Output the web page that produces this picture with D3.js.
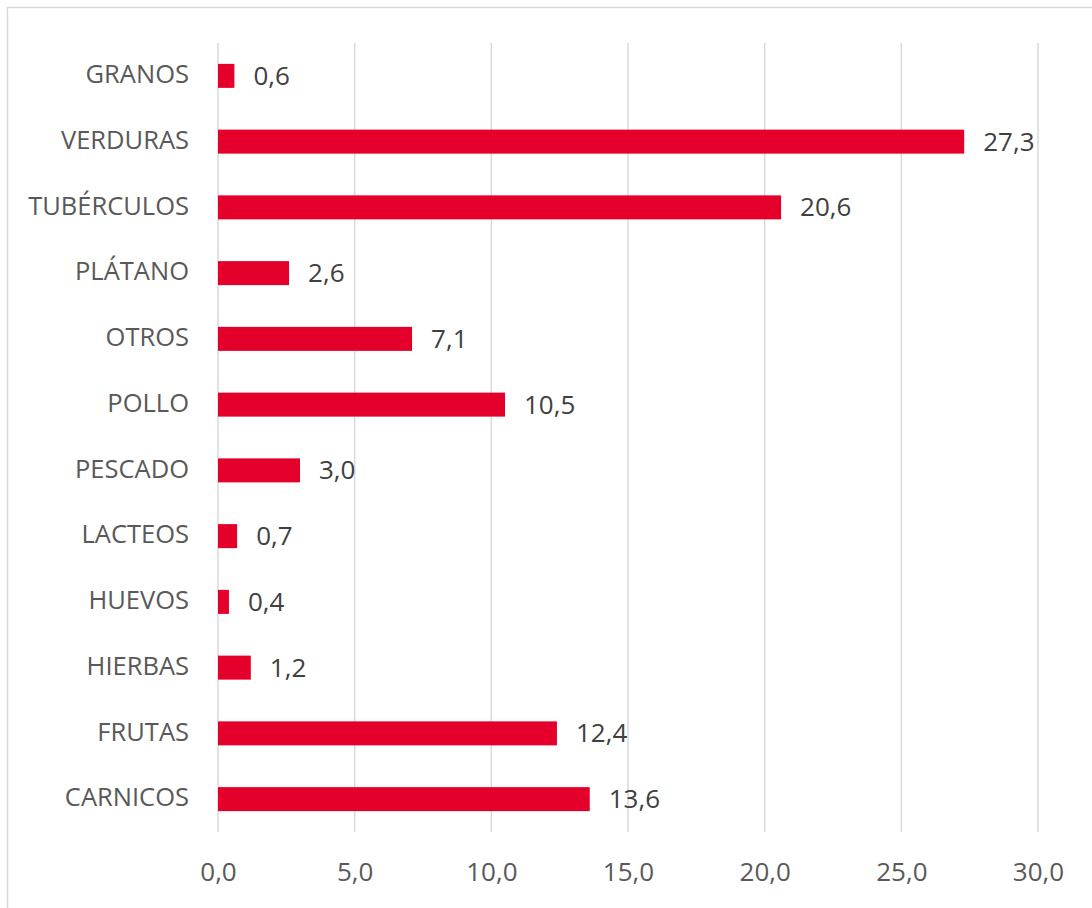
<!DOCTYPE html>
<html><head><meta charset="utf-8">
<script src="https://cdn.jsdelivr.net/npm/d3@7"></script>
<style>body{margin:0;background:#fff}svg{display:block}</style>
</head><body>
<svg id="c" width="1092" height="908"></svg>
<script>
const categories = ["GRANOS","VERDURAS","TUBÉRCULOS","PLÁTANO","OTROS","POLLO","PESCADO","LACTEOS","HUEVOS","HIERBAS","FRUTAS","CARNICOS"];
const values = [0.6,27.3,20.6,2.6,7.1,10.5,3.0,0.7,0.4,1.2,12.4,13.6];
const ticks = [0,5,10,15,20,25,30];

const svg = d3.select("#c");
const font = "'Open Sans', sans-serif";
const fmt = v => v.toFixed(1).replace(".", ",");
const textColor = "#595959";

svg.append("rect").attr("x",7.5).attr("y",7.5).attr("width",1090).attr("height",905)
  .attr("fill","#fff").attr("stroke","#d9d9d9").attr("stroke-width",1.5);

const x = d3.scaleLinear().domain([0,30]).range([218,1038]);
const y = d3.scaleBand().domain(categories).range([43,832]).paddingInner(0.635).paddingOuter(0.3175);

// gridlines
svg.append("g").selectAll("line").data(ticks).join("line")
  .attr("x1",d=>x(d)).attr("x2",d=>x(d)).attr("y1",43).attr("y2",832)
  .attr("stroke","#d9d9d9").attr("stroke-width",1.5);

// x axis labels
const xAxis = d3.axisBottom(x).tickValues(ticks).tickFormat(fmt).tickSize(0).tickPadding(0);
const gx = svg.append("g").attr("transform","translate(0,881)").call(xAxis);
gx.select(".domain").remove();
gx.selectAll("text").attr("font-family",font).attr("font-size",26).attr("fill",textColor).attr("dy",null).attr("y",0);

// y axis labels
const yAxis = d3.axisLeft(y).tickSize(0).tickPadding(0);
const gy = svg.append("g").attr("transform","translate(189,-1)").call(yAxis);
gy.select(".domain").remove();
gy.selectAll("text").attr("font-family",font).attr("font-size",25.5).attr("fill",textColor);

// bars
svg.append("g").selectAll("rect").data(categories).join("rect")
  .attr("x",x(0)).attr("y",d=>y(d)).attr("height",y.bandwidth())
  .attr("width",(d,i)=>x(values[i])-x(0)).attr("fill","#E4002B");

// value labels
svg.append("g").selectAll("text").data(categories).join("text")
  .attr("x",(d,i)=>x(values[i])+19).attr("y",d=>y(d)+y.bandwidth()/2)
  .attr("dy","0.35em").attr("font-family",font).attr("font-size",26).attr("fill","#404040")
  .text((d,i)=>fmt(values[i]));
</script>
</body></html>
